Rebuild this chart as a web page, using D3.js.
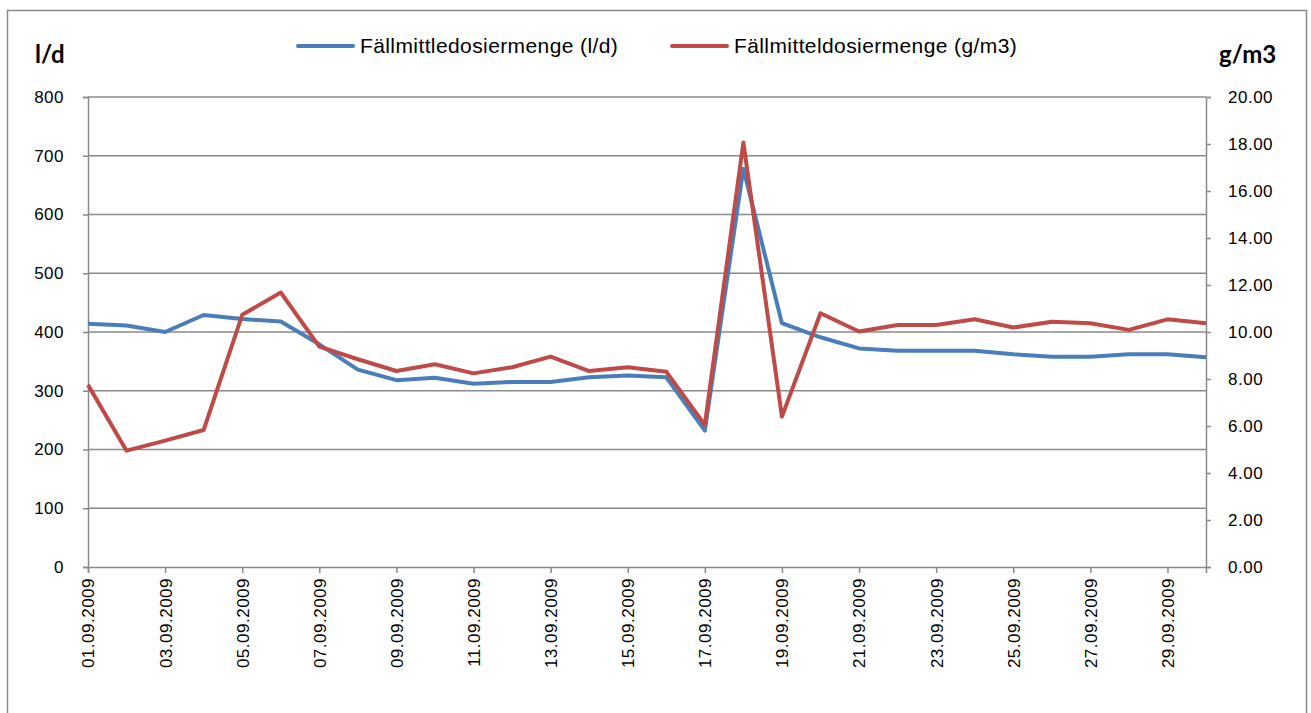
<!DOCTYPE html>
<html>
<head>
<meta charset="utf-8">
<script src="https://cdn.jsdelivr.net/npm/d3@7"></script>
<style>
  body { margin: 0; background: #fff; }
  svg text { font-family: "Liberation Sans", Arial, sans-serif; fill: #000; }
</style>
</head>
<body>
<svg id="chart" width="1311" height="713"></svg>
<script>
// data
var days = ["01.09.2009","02.09.2009","03.09.2009","04.09.2009","05.09.2009","06.09.2009","07.09.2009","08.09.2009","09.09.2009","10.09.2009",
            "11.09.2009","12.09.2009","13.09.2009","14.09.2009","15.09.2009","16.09.2009","17.09.2009","18.09.2009","19.09.2009","20.09.2009",
            "21.09.2009","22.09.2009","23.09.2009","24.09.2009","25.09.2009","26.09.2009","27.09.2009","28.09.2009","29.09.2009","30.09.2009"];
var literPerDay = [414, 411, 400, 429, 422, 418, 379, 336, 318, 322,
                   312, 315, 315, 323, 326, 323, 232, 678, 415, 391,
                   372, 368, 368, 368, 362, 358, 358, 362, 362, 357];
var gramPerM3 = [7.75, 4.95, 5.38, 5.83, 10.73, 11.68, 9.38, 8.84, 8.34, 8.63,
                 8.24, 8.5, 8.95, 8.34, 8.5, 8.31, 6.05, 18.06, 6.4, 10.8,
                 10.02, 10.3, 10.3, 10.54, 10.19, 10.44, 10.37, 10.09, 10.54, 10.37];
var leftTicks = [0, 100, 200, 300, 400, 500, 600, 700, 800];
var rightTicks = [0, 2, 4, 6, 8, 10, 12, 14, 16, 18, 20];
var seriesNames = ["Fällmittledosiermenge (l/d)", "Fällmitteldosiermenge (g/m3)"];
var seriesColors = ["#4a7ebb", "#be4b48"];

var svg = d3.select("#chart");
// note: "top" is taken by window.top, so plot edges get their own names
var plotLeft = 88, plotRight = 1206, plotTop = 97, plotBottom = 567;
var gridColor = "#8a8a8a";

// outer frame
svg.append("rect")
  .attr("x", 7.5).attr("y", 10.5).attr("width", 1299).attr("height", 704)
  .attr("fill", "none").attr("stroke", gridColor).attr("stroke-width", 1.5);

var x = d3.scalePoint().domain(days).range([plotLeft, plotRight]);
var yL = d3.scaleLinear().domain([0, 800]).range([plotBottom, plotTop]);
var yR = d3.scaleLinear().domain([0, 20]).range([plotBottom, plotTop]);

// gridlines
svg.append("g").selectAll("line")
  .data(leftTicks.slice(1))
  .enter().append("line")
  .attr("x1", plotLeft).attr("x2", plotRight)
  .attr("y1", function(d) { return yL(d); })
  .attr("y2", function(d) { return yL(d); })
  .attr("stroke", gridColor).attr("stroke-width", 1.5);

// left axis
var leftAxis = svg.append("g").attr("transform", "translate(" + plotLeft + ",0)");
leftAxis.call(d3.axisLeft(yL).tickValues(d3.range(0, 801, 20)).tickSize(4).tickFormat(""));
leftAxis.call(d3.axisLeft(yL).tickValues(leftTicks).tickSize(5).tickFormat(d3.format("d")).tickPadding(19));

// right axis
var rightAxis = svg.append("g").attr("transform", "translate(" + plotRight + ",0)");
rightAxis.call(d3.axisRight(yR).tickValues(d3.range(0, 20.01, 0.5)).tickSize(4).tickFormat(""));
rightAxis.call(d3.axisRight(yR).tickValues(rightTicks).tickSize(5).tickFormat(d3.format(".2f")).tickPadding(17));

// bottom axis
var bottomAxis = svg.append("g").attr("transform", "translate(0," + plotBottom + ")");
bottomAxis.call(d3.axisBottom(x).tickSize(4).tickFormat(""));
bottomAxis.call(d3.axisBottom(x)
  .tickValues(days.filter(function(d, i) { return i % 2 == 0; }))
  .tickSize(6).tickPadding(10));
bottomAxis.selectAll(".tick text")
  .attr("transform", "rotate(-90)")
  .attr("text-anchor", "end")
  .attr("x", -11).attr("y", 0).attr("dy", "0.35em");

svg.selectAll(".domain, .tick line").attr("stroke", gridColor).attr("stroke-width", 1.5);
svg.selectAll(".tick text")
  .style("font-size", "17px").style("letter-spacing", "0.5px")
  .style("font-family", "'Liberation Sans', Arial, sans-serif")
  .attr("fill", "#000");

// lines
var lineL = d3.line().x(function(d, i) { return x(days[i]); }).y(function(d) { return yL(d); });
var lineR = d3.line().x(function(d, i) { return x(days[i]); }).y(function(d) { return yR(d); });

svg.append("path").datum(literPerDay)
  .attr("d", lineL).attr("fill", "none")
  .attr("stroke", seriesColors[0]).attr("stroke-width", 4).attr("stroke-linejoin", "round");
svg.append("path").datum(gramPerM3)
  .attr("d", lineR).attr("fill", "none")
  .attr("stroke", seriesColors[1]).attr("stroke-width", 4).attr("stroke-linejoin", "round");

// axis titles
svg.append("text").attr("x", 35).attr("y", 63).text("l/d")
  .style("font-family", "Lato, 'Open Sans', sans-serif").style("font-weight", "bold").style("font-size", "24px");
svg.append("text").attr("x", 1219).attr("y", 63).text("g/m3")
  .style("font-family", "Lato, 'Open Sans', sans-serif").style("font-weight", "bold").style("font-size", "24px");

// legend
var legendX = [298, 672];
var legend = svg.append("g").selectAll("g")
  .data(seriesNames)
  .enter().append("g")
  .attr("transform", function(d, i) { return "translate(" + legendX[i] + ",46)"; });
legend.append("line")
  .attr("x1", 0).attr("x2", 55).attr("y1", 0).attr("y2", 0)
  .attr("stroke", function(d, i) { return seriesColors[i]; })
  .attr("stroke-width", 4).attr("stroke-linecap", "round");
legend.append("text")
  .attr("x", 62).attr("y", 0).attr("dy", "0.35em")
  .style("font-size", "21px").style("letter-spacing", "0.4px")
  .text(function(d) { return d; });
</script>
</body>
</html>
